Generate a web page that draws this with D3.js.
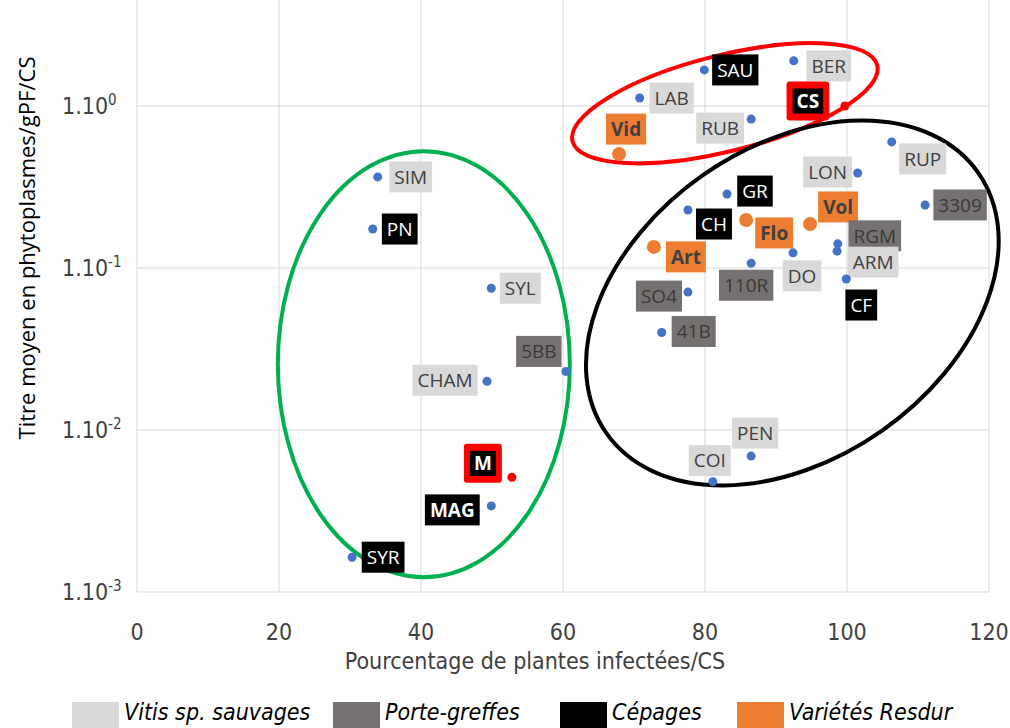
<!DOCTYPE html>
<html>
<head>
<meta charset="utf-8">
<script src="https://cdn.jsdelivr.net/npm/d3@7"></script>
<style>
  body { margin: 0; background: #fff; }
  svg { display: block; }
</style>
</head>
<body>
<div id="chart"></div>
<script>
// data
var names  = ["SAU","BER","LAB","RUB","CS","Vid","LON","RUP","3309","GR","CH","Flo","Vol","Art","RGM","ARM","DO","110R","CF","SO4","41B","PEN","COI","SIM","PN","SYL","5BB","CHAM","M","MAG","SYR"];
var pctInf = [79.9,92.5,70.8,86.5,99.7,67.9,101.5,106.3,111.0,83.1,77.6,85.8,94.8,72.8,98.7,98.6,92.4,86.5,99.9,77.6,73.9,86.5,81.1,33.9,33.2,49.9,60.4,49.3,52.8,49.9,30.3];
var titre  = [1.67,1.90,1.12,0.83,1.0,0.505,0.386,0.60,0.245,0.286,0.228,0.198,0.187,0.135,0.141,0.127,0.124,0.107,0.0855,0.071,0.040,0.0069,0.0048,0.365,0.174,0.075,0.023,0.020,0.0051,0.0034,0.00164];
var groups = ["cep","sauv","sauv","sauv","cep","res","sauv","sauv","pg","cep","cep","res","res","res","pg","sauv","sauv","pg","cep","pg","pg","sauv","sauv","sauv","cep","sauv","pg","sauv","cep","cep","cep"];
var reference = ["CS","M"];

// label placement (pixels from the point)
var labelDx = [31,35,32,-31,-37,7,-30,31,35,28,26,28,28,32,37,36,9,-5,15,-29,32,4,-3,33,27,29,-27,-42,-29,-39,31];
var labelDy = [0,5,0,9,-5,-25,-1,17,0,-3,14,13,-17,10,-8,11,23,22,26,4,-1,-23,-21,0,0,0,-20,-1,-14,4,0];

var xTicks = [0,20,40,60,80,100,120];
var yTicks = [1e-3,1e-2,1e-1,1e0];

var legendKeys   = ["sauv","pg","cep","res"];
var legendLabels = ["Vitis sp. sauvages","Porte-greffes","Cépages","Variétés Resdur"];

// group ellipses: centre in data units, radii in px
var ellipses = [
  { cx: 82.8, cy: 1.04,  rx: 157, ry: 48,  rot: -14, color: "#ff0000" },
  { cx: 40.4, cy: 0.0255, rx: 146, ry: 213, rot: 0,   color: "#00b050" },
  { cx: 92.3, cy: 0.0608, rx: 227, ry: 156, rot: -35, color: "#000000" }
];

var boxFill = { sauv: "#d9d9d9", pg: "#767171", cep: "#000000", res: "#ed7d31" };
var txtFill = { sauv: "#404040", pg: "#3b3838", cep: "#ffffff", res: "#404040" };

var width = 1010, height = 728;
var font = "'Open Sans', 'Noto Sans', sans-serif";
var axisFont = "'Liberation Sans Narrow', 'DejaVu Sans Condensed', 'Open Sans', sans-serif";

var svg = d3.select("#chart").append("svg")
    .attr("width", width)
    .attr("height", height);

var x = d3.scaleLinear().domain([0, 120]).range([137, 989]);
var y = d3.scaleLog().domain([1e-3, 1e1]).range([592, -56]);

// grid
svg.append("g").selectAll("line.v")
    .data(xTicks)
    .enter().append("line")
    .attr("x1", function (d) { return x(d); })
    .attr("x2", function (d) { return x(d); })
    .attr("y1", y(1e1))
    .attr("y2", y(1e-3))
    .attr("stroke", "#d9d9d9")
    .attr("stroke-width", 1);

svg.append("g").selectAll("line.h")
    .data(yTicks)
    .enter().append("line")
    .attr("x1", x(0))
    .attr("x2", x(120))
    .attr("y1", function (d) { return y(d); })
    .attr("y2", function (d) { return y(d); })
    .attr("stroke", "#d9d9d9")
    .attr("stroke-width", 1);

// x tick labels
svg.append("g").selectAll("text")
    .data(xTicks)
    .enter().append("text")
    .attr("x", function (d) { return x(d); })
    .attr("y", 640)
    .attr("text-anchor", "middle")
    .attr("font-family", axisFont)
    .attr("font-size", "23px")
    .attr("fill", "#404040")
    .text(function (d) { return d; });

// y tick labels  1.10^n
var yLab = svg.append("g").selectAll("text")
    .data(yTicks)
    .enter().append("text")
    .attr("x", 62)
    .attr("y", function (d) { return y(d) + 8; })
    .attr("font-family", axisFont)
    .attr("font-size", "23px")
    .attr("fill", "#404040");
yLab.append("tspan").text("1.10");
yLab.append("tspan")
    .attr("dy", -9)
    .attr("font-size", "15px")
    .text(function (d) { return Math.round(Math.log10(d)); });

// axis titles
svg.append("text")
    .attr("x", 535)
    .attr("y", 669)
    .attr("text-anchor", "middle")
    .attr("font-family", axisFont)
    .attr("font-size", "23px")
    .attr("fill", "#404040")
    .text("Pourcentage de plantes infectées/CS");

svg.append("text")
    .attr("transform", "translate(35,248) rotate(-90)")
    .attr("text-anchor", "middle")
    .attr("font-family", font)
    .attr("font-size", "22px")
    .attr("fill", "#000")
    .text("Titre moyen en phytoplasmes/gPF/CS");

// ellipses
svg.append("g").selectAll("ellipse")
    .data(ellipses)
    .enter().append("ellipse")
    .attr("transform", function (d) {
        return "translate(" + x(d.cx) + "," + y(d.cy) + ") rotate(" + d.rot + ")";
    })
    .attr("rx", function (d) { return d.rx; })
    .attr("ry", function (d) { return d.ry; })
    .attr("fill", "none")
    .attr("stroke", function (d) { return d.color; })
    .attr("stroke-width", 4);

var pts = names.map(function (n, i) {
    return { name: n, x: pctInf[i], y: titre[i], g: groups[i], dx: labelDx[i], dy: labelDy[i],
             ref: reference.indexOf(n) >= 0 };
});

// labels
var lab = svg.append("g").selectAll("g")
    .data(pts)
    .enter().append("g")
    .attr("transform", function (d) {
        return "translate(" + (x(d.x) + d.dx) + "," + (y(d.y) + d.dy) + ")";
    });

lab.each(function (d) {
    var g = d3.select(this);
    var bold = d.g === "res" || d.ref || d.name === "MAG";
    var t = g.append("text")
        .attr("text-anchor", "middle")
        .attr("dy", "0.36em")
        .attr("font-family", font)
        .attr("font-size", "19px")
        .attr("font-weight", bold ? "bold" : "normal")
        .attr("fill", txtFill[d.g])
        .text(d.name);
    var w = t.node().getComputedTextLength() + 10;
    var h = 31;
    if (d.ref) {
        g.insert("rect", "text")
            .attr("x", -w / 2 - 5).attr("y", -h / 2 - 4)
            .attr("width", w + 10).attr("height", h + 8)
            .attr("rx", 3)
            .attr("fill", "#ff0000");
        w = w - 2; h = h - 6;
    }
    g.insert("rect", "text")
        .attr("x", -w / 2).attr("y", -h / 2)
        .attr("width", w).attr("height", h)
        .attr("fill", boxFill[d.g]);
});

// points
svg.append("g").selectAll("circle")
    .data(pts)
    .enter().append("circle")
    .attr("cx", function (d) { return x(d.x); })
    .attr("cy", function (d) { return y(d.y); })
    .attr("r", function (d) { return d.g === "res" ? 7 : 4.5; })
    .attr("fill", function (d) {
        if (d.ref) return "#ff0000";
        if (d.g === "res") return "#ed7d31";
        return "#4472c4";
    });

// legend
var leg = svg.append("g");
var legX = [72, 333, 560, 737];
leg.selectAll("rect")
    .data(legendKeys)
    .enter().append("rect")
    .attr("x", function (d, i) { return legX[i]; })
    .attr("y", 702)
    .attr("width", 47)
    .attr("height", 30)
    .attr("fill", function (d) { return boxFill[d]; });

leg.selectAll("text")
    .data(legendLabels)
    .enter().append("text")
    .attr("x", function (d, i) { return legX[i] + 52; })
    .attr("y", 720)
    .attr("font-family", axisFont)
    .attr("font-style", "italic")
    .attr("font-size", "23px")
    .attr("fill", "#000")
    .text(function (d) { return d; });
</script>
</body>
</html>
